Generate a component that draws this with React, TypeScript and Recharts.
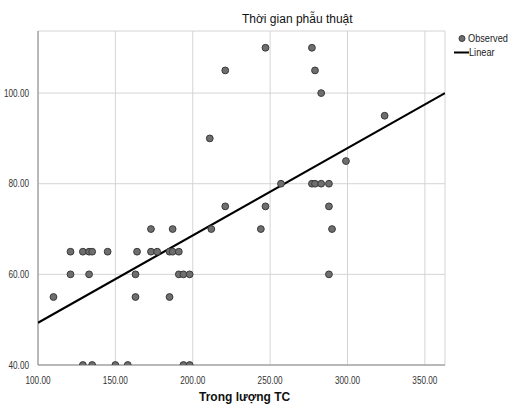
import React from "react";
import { ScatterChart, Scatter, XAxis, YAxis, CartesianGrid } from "recharts";

// Trọng lượng TC (x) vs Thời gian phẫu thuật (y)
const weights = [
  110, 121, 121, 129, 133, 135, 133, 129, 135, 145, 150, 158, 163, 163, 164,
  173, 173, 177, 185, 185, 187, 187, 191, 191, 194, 198, 194, 198, 211, 212,
  221, 221, 244, 247, 247, 257, 277, 279, 283, 277, 279, 283, 288, 288, 290,
  288, 299, 324,
];
const times = [
  55, 65, 60, 65, 65, 65, 60, 40, 40, 65, 40, 40, 60, 55, 65, 70, 65, 65, 55,
  65, 65, 70, 65, 60, 60, 60, 40, 40, 90, 70, 75, 105, 70, 75, 110, 80, 110,
  105, 100, 80, 80, 80, 80, 75, 70, 60, 85, 95,
];

// linear fit endpoints
const fitX = [100, 363];
const fitY = [49.3, 100];

const xTicks = [100, 150, 200, 250, 300, 350];
const yTicks = [40, 60, 80, 100];

const observed = weights.map((w, i) => ({ x: w, y: times[i] }));
const linear = fitX.map((x, i) => ({ x, y: fitY[i] }));

const FONT = '"Liberation Sans", Arial, sans-serif';

// narrow-looking tick text
const NarrowTick = ({ x, y, payload, axis }: any) => {
  const label = Number(payload.value).toFixed(2);
  if (axis === "x") {
    return (
      <text
        transform={`translate(${x},${y + 11}) scale(0.82,1)`}
        textAnchor="middle"
        fontFamily={FONT}
        fontSize={10}
        fill="#333"
      >
        {label}
      </text>
    );
  }
  return (
    <text
      transform={`translate(${x - 1},${y + 3.5}) scale(0.82,1)`}
      textAnchor="end"
      fontFamily={FONT}
      fontSize={10}
      fill="#333"
    >
      {label}
    </text>
  );
};

const narrow = {
  display: "inline-block",
  transform: "scaleX(0.8)",
  transformOrigin: "left",
};

const row = {
  display: "flex",
  alignItems: "center",
  whiteSpace: "nowrap" as const,
};

export default function App() {
  return (
    <div
      style={{
        position: "absolute",
        left: 0,
        top: 0,
        width: 509,
        height: 405,
        background: "#fff",
        overflow: "hidden",
      }}
    >
      <div
        style={{
          position: "absolute",
          top: 12,
          left: 242,
          whiteSpace: "nowrap",
          fontFamily: FONT,
          fontSize: 12,
          color: "#111",
        }}
      >
        Thời gian phẫu thuật
      </div>
      <ScatterChart
        width={509}
        height={405}
        margin={{ top: 31, right: 64, bottom: 20, left: 0 }}
      >
        <CartesianGrid stroke="#d4d4d4" strokeWidth={1} />
        <XAxis
          type="number"
          dataKey="x"
          domain={[100, 363]}
          ticks={xTicks}
          tick={(p: any) => <NarrowTick {...p} axis="x" />}
          tickLine={false}
          axisLine={{ stroke: "#888" }}
          height={20}
          allowDataOverflow
        />
        <YAxis
          type="number"
          dataKey="y"
          domain={[40, 113.7]}
          ticks={yTicks}
          tick={(p: any) => <NarrowTick {...p} axis="y" />}
          tickLine={false}
          axisLine={{ stroke: "#888" }}
          width={38}
          allowDataOverflow
        />
        <Scatter
          name="Linear"
          data={linear}
          line={{ stroke: "#000", strokeWidth: 2.2 }}
          shape={() => <g />}
          isAnimationActive={false}
        />
        <Scatter
          name="Observed"
          data={observed}
          fill="#6e6e6e"
          shape={(p: any) => (
            <circle cx={p.cx} cy={p.cy} r={3.4} fill="#6e6e6e" stroke="#3a3a3a" strokeWidth={1} />
          )}
          isAnimationActive={false}
        />
      </ScatterChart>
      <div
        style={{
          position: "absolute",
          top: 31,
          left: 454,
          width: 70,
          fontFamily: FONT,
          fontSize: 11.5,
          color: "#222",
          lineHeight: "14px",
        }}
      >
        <div style={row}>
          <svg width={14} height={13} style={{ flexShrink: 0 }}>
            <circle cx={8} cy={6.5} r={3} fill="#6e6e6e" stroke="#3a3a3a" />
          </svg>
          <span style={narrow}>Observed</span>
        </div>
        <div style={row}>
          <svg width={15} height={13} style={{ flexShrink: 0 }}>
            <line x1={0} y1={6.5} x2={15} y2={6.5} stroke="#000" strokeWidth={2} />
          </svg>
          <span style={narrow}>Linear</span>
        </div>
      </div>
      <div
        style={{
          position: "absolute",
          top: 390,
          left: 199,
          whiteSpace: "nowrap",
          fontFamily: FONT,
          fontSize: 12,
          fontWeight: "bold",
          color: "#111",
        }}
      >
        Trong lượng TC
      </div>
    </div>
  );
}
